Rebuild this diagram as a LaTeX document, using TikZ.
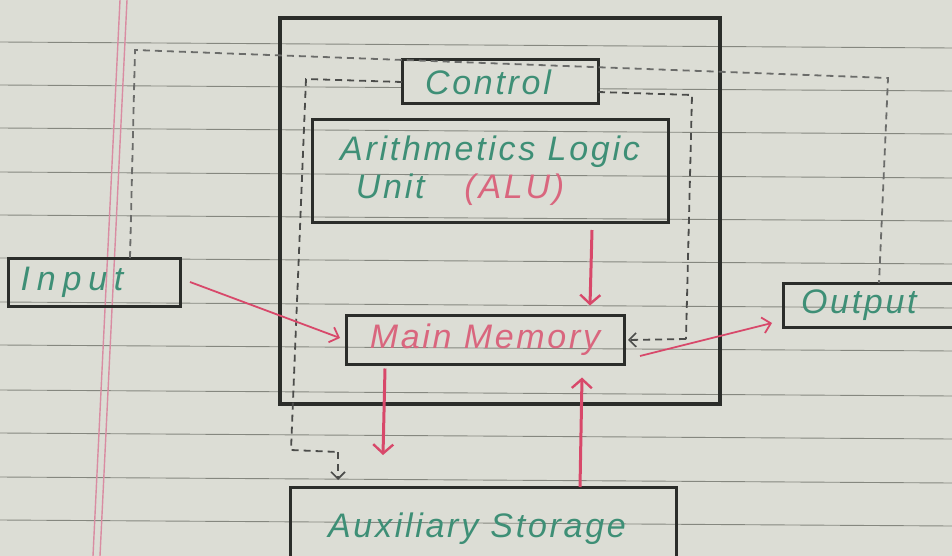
\documentclass[tikz,border=0pt]{standalone}
\usepackage{fontspec}
\setmainfont{Liberation Sans}
\usetikzlibrary{arrows.meta}
\definecolor{paper}{HTML}{DCDDD5}
\definecolor{rule}{HTML}{85877F}
\definecolor{margin}{HTML}{D98CA2}
\definecolor{ink}{HTML}{2B2D2A}
\definecolor{greentext}{HTML}{3E8F76}
\definecolor{redtext}{HTML}{D9667E}
\definecolor{redarrow}{HTML}{D8486A}
\tikzset{
  box/.style={draw=ink, line width=3pt, inner sep=0pt, outer sep=0pt, rectangle},
  bigbox/.style={draw=ink, line width=3.6pt, inner sep=0pt, outer sep=0pt, rectangle},
  hand/.style={font=\fontsize{34}{38}\selectfont\itshape\addfontfeatures{LetterSpace=8}},
  dashline/.style={draw=ink!85, line width=1.8pt, dash pattern=on 7pt off 5pt},
  dasharrow/.style={dashline, -{Straight Barb[length=7pt,width=14pt,line width=1.6pt]}},
  redthick/.style={draw=redarrow, line width=3pt, -{Straight Barb[length=9pt,width=20pt,line width=2.4pt]}},
  redthin/.style={draw=redarrow, line width=1.8pt, -{Straight Barb[length=8pt,width=16pt,line width=1.8pt]}},
}
\begin{document}
\begin{tikzpicture}[x=1pt,y=-1pt]
\useasboundingbox (0,0) rectangle (952,556);
\clip (0,0) rectangle (952,556);
\fill[paper] (0,0) rectangle (952,556);
% ruled paper
\foreach \yy in {42,85,128,172,215,258,302,345,390,433,477,520}
  \draw[rule, line width=0.9pt] (0,\yy) -- (952,\yy+6);
\draw[margin, line width=1.4pt] (120,0) -- (93,556);
\draw[margin, line width=1.4pt] (127,0) -- (100,556);

% boxes
\node[bigbox, minimum width=440pt, minimum height=386pt] (cpu) at (500,211) {};
\node[box, fill=paper, minimum width=196pt, minimum height=44pt, hand, text=greentext] (ctrl) at (500,82) {\raisebox{-4pt}{\hspace*{-24pt}Control}};
\node[box, minimum width=356pt, minimum height=102pt, hand, text=greentext, align=center] (alu) at (490,171)
  {Arithmetics Logic\\\hspace*{-60pt}Unit\hspace{40pt}{\color{redtext}(ALU)}};
\node[box, minimum width=278pt, minimum height=49pt, hand, text=redtext] (mem) at (485,340) {\raisebox{-4pt}{Main Memory}};
\node[box, minimum width=172pt, minimum height=48pt, hand, text=greentext] (inp) at (94,282) {\hspace*{-44pt}{\addfontfeatures{LetterSpace=20}Input}};
\node[box, minimum width=190pt, minimum height=44pt, hand, text=greentext, text width=170pt, align=left] (out) at (878,305) {\hspace*{8pt}Output};
\node[box, minimum width=386pt, minimum height=90pt, hand, text=greentext, anchor=north] (aux) at (483,487) {\raisebox{14pt}{\hspace*{-12pt}Auxiliary Storage}};

% dashed control lines
\coordinate (d1) at (135,50);
\coordinate (d2) at (888,78);
\draw[dashline, draw=ink!70] ([xshift=-50pt]inp.north east) -- (d1) -- (d2) -- ([xshift=96pt]out.north west);
\coordinate (l1) at (306,79);
\coordinate (l2) at (291,450);
\coordinate (l3) at (338,452);
\draw[dashline] (ctrl.west) -- (l1) -- (l2) -- (l3);
\draw[dasharrow] (l3) -- ([xshift=-145pt,yshift=7pt]aux.north);
\coordinate (r1) at (692,95);
\coordinate (r2) at (686,339);
\draw[dashline] ([yshift=-10pt]ctrl.east) -- (r1) -- (r2);
\draw[dasharrow] (r2) -- ([xshift=4pt]mem.east);

% red data arrows
\draw[redthin] ([xshift=10pt]inp.east) -- ([xshift=-6pt,yshift=2pt]mem.west);
\draw[redthick] ([shift={(102pt,-8pt)}]alu.south) -- ([shift={(105pt,10pt)}]mem.north);
\draw[redthin] ([shift={(16pt,-16pt)}]mem.east) -- ([shift={(-11pt,-18pt)}]out.west);
\draw[redthick] ([shift={(-100pt,-4pt)}]mem.south) -- ([shift={(-100pt,32pt)}]aux.north);
\draw[redthick] ([xshift=97pt]aux.north) -- ([shift={(97pt,-13pt)}]mem.south);
\end{tikzpicture}
\end{document}
